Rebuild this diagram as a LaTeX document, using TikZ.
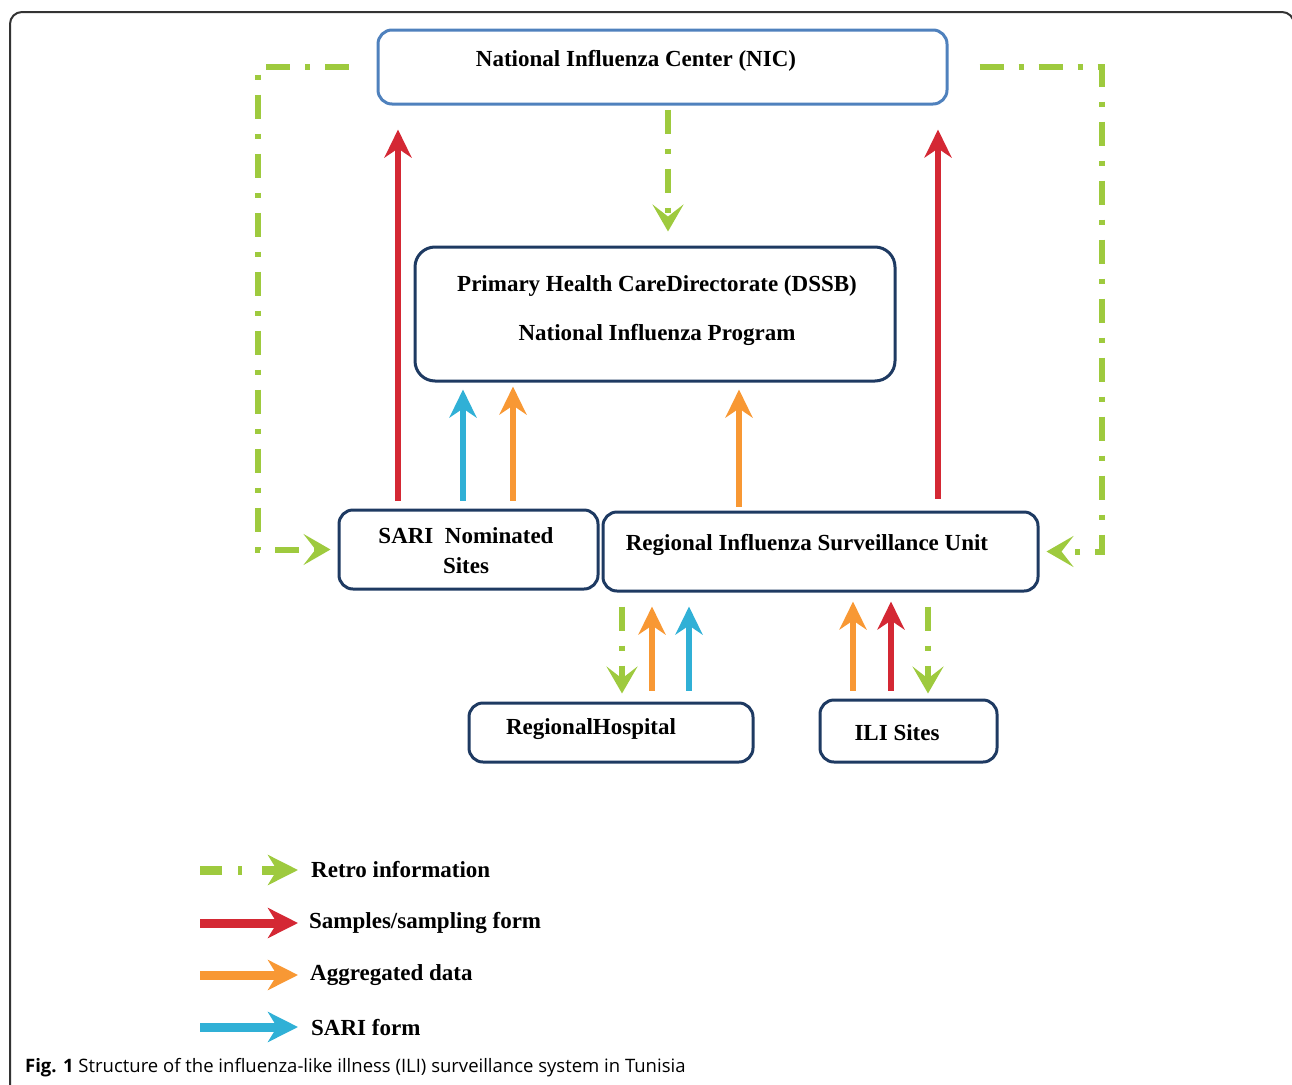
\documentclass[tikz,border=0pt]{standalone}
\usepackage{fontspec}
\setmainfont{Liberation Serif}
\newfontfamily\capfont{Open Sans}
\usetikzlibrary{arrows.meta,calc}
\definecolor{nicblue}{RGB}{79,129,189}
\definecolor{boxnavy}{RGB}{30,58,98}
\definecolor{retrogreen}{RGB}{158,202,62}
\definecolor{samplered}{RGB}{212,40,52}
\definecolor{aggorange}{RGB}{248,152,52}
\definecolor{sariblue}{RGB}{48,176,214}
\tikzset{
  unitbox/.style={draw=boxnavy, line width=3pt, rounded corners=14pt, fill=white, inner sep=0pt},
  boxtext/.style={font=\fontsize{23}{27}\selectfont\bfseries, inner sep=0pt, align=center},
  flow/.style={line width=6pt, -{Stealth[length=28pt,width=27pt,inset=9pt]}},
  retro/.style={draw=retrogreen, line width=6pt, dash pattern=on 24pt off 15pt on 5pt off 15pt},
  retroarr/.style={retro, -{Stealth[length=27pt,width=31pt,inset=12pt]}},
  legarrow/.style={line width=9pt, -{Stealth[length=30pt,width=30pt,inset=9pt]}},
}

\begin{document}
\begin{tikzpicture}[x=1pt,y=-1pt]
	%%%%% START %%%%%
	\useasboundingbox (0,0) rectangle (1292,1084);
	\draw[black!80, line width=2pt, rounded corners=12pt] (10,12) rectangle (1294,1110);
	
	% boxes
	\node[unitbox, draw=nicblue, minimum width=569pt, minimum height=74pt] (nic) at (662.5,67) {};
	\node[unitbox, rounded corners=20pt, minimum width=480pt, minimum height=134pt] (dssb) at (655,314) {};
	\node[unitbox, minimum width=259pt, minimum height=79pt] (sari) at (468.5,549.5) {};
	\node[unitbox, minimum width=435pt, minimum height=79pt] (risu) at (820.5,551.5) {};
	\node[unitbox, minimum width=284pt, minimum height=59pt] (hosp) at (611,732.5) {};
	\node[unitbox, minimum width=177pt, minimum height=62pt] (ili) at (908.5,731) {};
	
	\node[boxtext] (nictext) at (636,61) {National Influenza Center (NIC)};
	\node[boxtext, font=\fontsize{23}{49}\selectfont\bfseries] (dssbtext) at (657,311) {Primary Health CareDirectorate (DSSB)\\National Influenza Program};
	\node[boxtext, font=\fontsize{23}{30}\selectfont\bfseries] (saritext) at (466,551) {SARI~ Nominated\\Sites};
	\node[boxtext] (risutext) at (807,545) {Regional Influenza Surveillance Unit};
	\node[boxtext] (hosptext) at (591,729) {RegionalHospital};
	\node[boxtext] (ilitext) at (897,733) {ILI Sites};
	
	% columns of the arrows
	\coordinate (colRedL) at (398,0);
	\coordinate (colBlueA) at (463,0);
	\coordinate (colOrA) at (513,0);
	\coordinate (colGreenN) at (668,0);
	\coordinate (colOrB) at (739,0);
	\coordinate (colRedR) at (938,0);
	\coordinate (colGreenH) at (622,0);
	\coordinate (colOrH) at (652,0);
	\coordinate (colBlueH) at (689,0);
	\coordinate (colOrI) at (853,0);
	\coordinate (colRedI) at (891,0);
	\coordinate (colGreenI) at (928,0);
	\coordinate (retroL) at (258,300);
	\coordinate (retroR) at (1102,300);
	
	% retro information
	\draw[retroarr, shorten >=7pt] ([xshift=-28pt]nic.west) -| (retroL) |- (sari.west);
	\draw[retroarr, shorten >=7pt] ([xshift=31pt]nic.east) -| (retroR) |- (risu.east);
	\draw[retroarr, shorten <=4pt, shorten >=14pt] (nic.south -| colGreenN) -- (dssb.north -| colGreenN);
	\draw[retroarr, shorten <=14pt, shorten >=8pt] (risu.south -| colGreenH) -- (hosp.north -| colGreenH);
	\draw[retroarr, shorten <=14pt, shorten >=5pt] (risu.south -| colGreenI) -- (ili.north -| colGreenI);
	
	% samples
	\draw[flow, samplered, shorten <=8pt, shorten >=24pt] (sari.north -| colRedL) -- (nic.south -| colRedL);
	\draw[flow, samplered, shorten <=12pt, shorten >=24pt] (risu.north -| colRedR) -- (nic.south -| colRedR);
	\draw[flow, samplered, shorten <=8pt, shorten >=9pt] (ili.north -| colRedI) -- (risu.south -| colRedI);
	
	% aggregated data and sari forms
	\draw[flow, sariblue, shorten <=8pt, shorten >=7pt] (sari.north -| colBlueA) -- (dssb.south -| colBlueA);
	\draw[flow, aggorange, shorten <=8pt, shorten >=4pt] (sari.north -| colOrA) -- (dssb.south -| colOrA);
	\draw[flow, aggorange, shorten <=4pt, shorten >=7pt] (risu.north -| colOrB) -- (dssb.south -| colOrB);
	\draw[flow, aggorange, shorten <=11pt, shorten >=14pt] (hosp.north -| colOrH) -- (risu.south -| colOrH);
	\draw[flow, sariblue, shorten <=11pt, shorten >=14pt] (hosp.north -| colBlueH) -- (risu.south -| colBlueH);
	\draw[flow, aggorange, shorten <=8pt, shorten >=9pt] (ili.north -| colOrI) -- (risu.south -| colOrI);
	
	% legend
	\node[boxtext, anchor=west] (legRetro) at (311,870) {Retro information};
	\node[boxtext, anchor=west] (legSample) at (309,923) {Samples/sampling form};
	\node[boxtext, anchor=west] (legAgg) at (310,975) {Aggregated data};
	\node[boxtext, anchor=west] (legSari) at (311,1027) {SARI form};
	\draw[legarrow, retrogreen, dash pattern=on 22pt off 16pt on 4pt off 20pt on 60pt] ([xshift=-111pt]legRetro.west) -- ([xshift=-13pt]legRetro.west);
	\draw[legarrow, samplered] ([xshift=-109pt]legSample.west) -- ([xshift=-11pt]legSample.west);
	\draw[legarrow, aggorange] ([xshift=-110pt]legAgg.west) -- ([xshift=-12pt]legAgg.west);
	\draw[legarrow, sariblue] ([xshift=-111pt]legSari.west) -- ([xshift=-13pt]legSari.west);
	
	\node[anchor=west, inner sep=0pt, font=\capfont\fontsize{18.5}{22}\selectfont] (caption) at (25,1068) {{\bfseries Fig. 1} Structure of the influenza-like illness (ILI) surveillance system in Tunisia};
	%%%%% END %%%%%
\end{tikzpicture}
\end{document}
